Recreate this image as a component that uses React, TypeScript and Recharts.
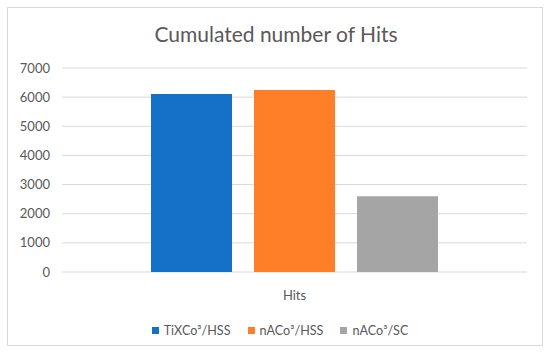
import { Bar, BarChart, CartesianGrid, Legend, XAxis, YAxis } from 'recharts';

const categories = ['Hits'];
const seriesNames = ['TiXCo³/HSS', 'nACo³/HSS', 'nACo³/SC'];
const seriesValues = [6110, 6245, 2595];
const seriesColors = ['#1571C8', '#FE7F27', '#A5A5A5'];
const yTicks = [0, 1000, 2000, 3000, 4000, 5000, 6000, 7000];

const FONT = 'Lato, "Open Sans", sans-serif';
const TEXT = '#595959';

const data = categories.map((c) => {
  const row: Record<string, string | number> = { name: c };
  seriesNames.forEach((s, i) => {
    row[s] = seriesValues[i];
  });
  return row;
});

function LegendContent() {
  return (
    <div
      style={{
        display: 'flex', justifyContent: 'center', alignItems: 'center', height: 30,
        paddingTop: 6, paddingLeft: 10, boxSizing: 'border-box',
        fontFamily: FONT, fontSize: 12.6, color: TEXT,
      }}
    >
      {seriesNames.map((s, i) => (
        <span key={s} style={{ display: 'inline-flex', alignItems: 'center', marginRight: i < seriesNames.length - 1 ? 17 : 0 }}>
          <span style={{ width: 7, height: 7, background: seriesColors[i], marginRight: 5, display: 'inline-block' }} />
          {s}
        </span>
      ))}
    </div>
  );
}

export default function App() {
  return (
    <div style={{ position: 'absolute', left: 0, top: 0, width: 550, height: 355, background: '#fff' }}>
      <div
        style={{
          position: 'absolute', left: 7, top: 7, width: 534, height: 337,
          border: '1px solid #d9d9d9', boxSizing: 'content-box',
        }}
      />
      <div
        style={{
          position: 'absolute', left: 0, top: 20, width: 552, textAlign: 'center',
          fontFamily: FONT, fontSize: 21, color: TEXT, lineHeight: '28px',
        }}
      >
        Cumulated number of Hits
      </div>
      <div style={{ position: 'absolute', left: 0, top: 0 }}>
        <BarChart
          width={550}
          height={355}
          data={data}
          margin={{ top: 68, right: 23, bottom: 13, left: 0 }}
          barCategoryGap={89}
          barGap={22}
        >
          <CartesianGrid vertical={false} stroke="#d9d9d9" strokeWidth={1} />
          <XAxis
            dataKey="name"
            axisLine={false}
            tickLine={false}
            tickSize={0}
            tickMargin={19}
            height={40}
            tick={{ fontFamily: FONT, fontSize: 13, fill: TEXT }}
          />
          <YAxis
            width={62}
            domain={[0, 7000]}
            ticks={yTicks}
            axisLine={false}
            tickLine={false}
            tickSize={0}
            tickMargin={12}
            tick={{ fontFamily: FONT, fontSize: 13, fill: TEXT }}
          />
          <Legend
            verticalAlign="bottom"
            content={<LegendContent />}
            wrapperStyle={{ height: 30, left: 0, width: 550 }}
          />
          {seriesNames.map((s, i) => (
            <Bar key={s} dataKey={s} fill={seriesColors[i]} isAnimationActive={false} />
          ))}
        </BarChart>
      </div>
    </div>
  );
}
